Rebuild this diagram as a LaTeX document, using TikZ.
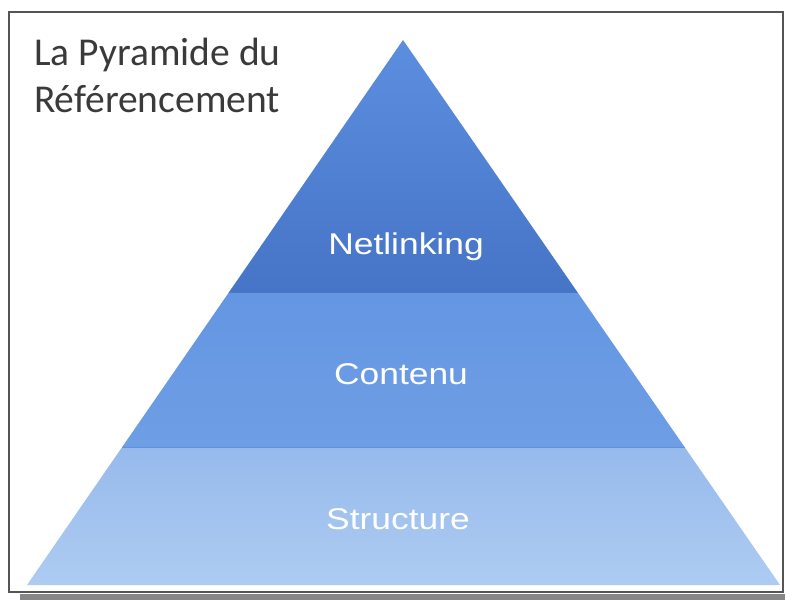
\documentclass[tikz,border=0pt]{standalone}
\usepackage{fontspec}
\usetikzlibrary{calc}
\newfontfamily\titlefont{Carlito}
\newfontfamily\labelfont[FakeStretch=1.18]{Liberation Sans}
\definecolor{topA}{RGB}{92,142,224}
\definecolor{topB}{RGB}{70,116,198}
\definecolor{midA}{RGB}{100,150,226}
\definecolor{midB}{RGB}{110,158,228}
\definecolor{botA}{RGB}{150,186,236}
\definecolor{botB}{RGB}{174,204,242}
\definecolor{seam}{RGB}{96,144,222}
\definecolor{titlegray}{RGB}{58,58,58}
\definecolor{framegray}{RGB}{85,85,85}
\definecolor{shadowgray}{RGB}{135,135,135}
\begin{document}
\begin{tikzpicture}[x=1pt,y=-1pt,
  bandlabel/.style={font=\labelfont\fontsize{30}{35}\selectfont, text=white, anchor=base, inner sep=0pt},
  titletext/.style={font=\titlefont\fontsize{39.5}{47}\selectfont, text=titlegray, anchor=base west, inner sep=0pt}]
\useasboundingbox (0,0) rectangle (785,600);
\fill[white] (0,0) rectangle (785,600);
\fill[shadowgray] (20,594) rectangle (785,600);
\draw[line width=1.2pt, draw=framegray] (9,12) rectangle (783,592);
\coordinate (A) at (403,40);
\coordinate (BL) at (27,585);
\coordinate (BR) at (780,585);
\coordinate (L1) at ($(A)!0.464!(BL)$);
\coordinate (R1) at ($(A)!0.464!(BR)$);
\coordinate (L2) at ($(A)!0.747!(BL)$);
\coordinate (R2) at ($(A)!0.747!(BR)$);
\shade[top color=topA, bottom color=topB] (A) -- (R1) -- (L1) -- cycle;
\shade[top color=midA, bottom color=midB] (L1) -- (R1) -- (R2) -- (L2) -- cycle;
\shade[top color=botA, bottom color=botB] (L2) -- (R2) -- (BR) -- (BL) -- cycle;
\draw[seam, line width=1pt] (L2) -- (R2);
\node[bandlabel] (net) at (406,254) {Netlinking};
\node[bandlabel] (cont) at (401,384) {Contenu};
\node[bandlabel] (struct) at (398,529) {Structure};
\node[titletext] (t1) at (34,65) {La Pyramide du};
\node[titletext] (t2) at (34,112) {Référencement};
\end{tikzpicture}
\end{document}
